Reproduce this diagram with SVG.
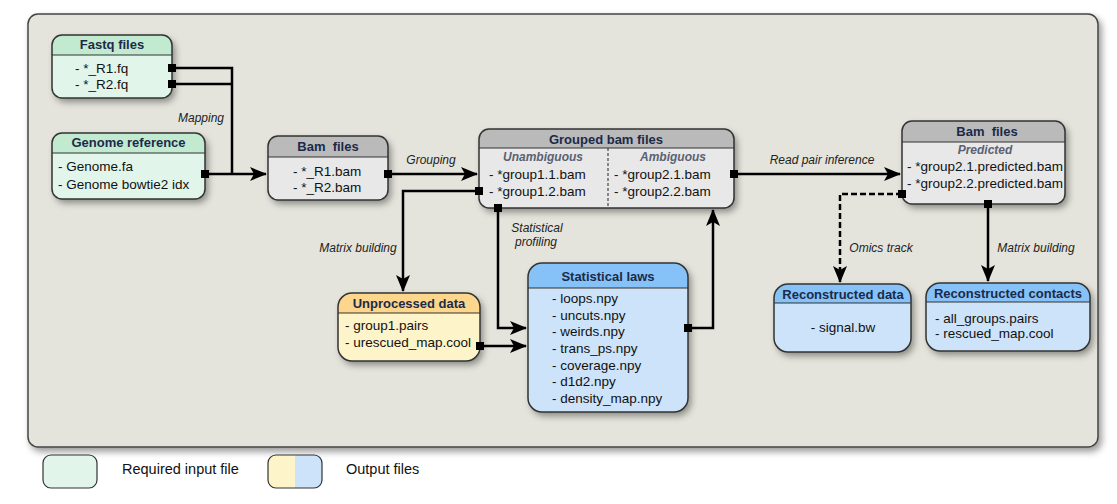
<svg xmlns="http://www.w3.org/2000/svg" width="1117" height="504" viewBox="0 0 1117 504">
<defs>
<filter id="sh" x="-20%" y="-20%" width="150%" height="160%">
<feDropShadow dx="3" dy="4" stdDeviation="3.5" flood-color="#000" flood-opacity="0.4"/>
</filter>
<marker id="arr" markerUnits="userSpaceOnUse" markerWidth="18" markerHeight="14" refX="16" refY="7" orient="auto">
<path d="M0,0 L17,7 L0,14 L4,7 z" fill="#000"/>
</marker>
<clipPath id="cFastq"><rect x="52" y="35" width="120" height="63" rx="10"/></clipPath>
<clipPath id="cGen"><rect x="52" y="133" width="153" height="66" rx="10"/></clipPath>
<clipPath id="cBam"><rect x="268" y="136" width="120" height="64" rx="10"/></clipPath>
<clipPath id="cGrp"><rect x="479" y="129" width="255" height="79" rx="10"/></clipPath>
<clipPath id="cPred"><rect x="902" y="121" width="163" height="83" rx="10"/></clipPath>
<clipPath id="cUnp"><rect x="338" y="293" width="142" height="68" rx="14"/></clipPath>
<clipPath id="cStat"><rect x="528" y="263" width="160" height="149" rx="14"/></clipPath>
<clipPath id="cRd"><rect x="774" y="284" width="137" height="68" rx="14"/></clipPath>
<clipPath id="cRc"><rect x="926" y="283" width="164" height="68" rx="14"/></clipPath>
<clipPath id="cLeg"><rect x="268" y="455" width="54" height="33" rx="8"/></clipPath>
</defs>
<style>
.frame{fill:#e4e4dc;stroke:#444;stroke-width:1.5}
.box{stroke:#333;stroke-width:1.5}
.sep{stroke:#333;stroke-width:1.2}
.title{font-family:"Liberation Sans",Arial,sans-serif;font-size:13px;font-weight:bold;fill:#1b2a49;text-anchor:middle}
.item{font-family:"Liberation Sans",Arial,sans-serif;font-size:13.5px;fill:#111}
.sub{font-family:"Liberation Sans",Arial,sans-serif;font-size:12px;font-weight:bold;font-style:italic;fill:#5a6172;text-anchor:middle}
.lbl{font-family:"Liberation Sans",Arial,sans-serif;font-size:12px;font-style:italic;fill:#222;text-anchor:middle}
.leg{font-family:"Liberation Sans",Arial,sans-serif;font-size:14.5px;fill:#111}
.conn{fill:none;stroke:#000;stroke-width:2.5}
.port{fill:#000}
.gH{fill:#c2ead1}.gB{fill:#e1f5ea}
.yH{fill:#fcd68c}.yB{fill:#fdf4c9}
.bH{fill:#86c2f7}.bB{fill:#cde3f9}
.kH{fill:#bababa}.kB{fill:#e8e8e8}
</style>
<rect class="frame" x="28" y="14" width="1070" height="433" rx="10" filter="url(#sh)"/>

<g id="connectors">
<path class="conn" d="M172,68 H232 V174"/>
<path class="conn" d="M172,84 H232"/>
<path class="conn" d="M205,174 H266" marker-end="url(#arr)"/>
<path class="conn" d="M388,174 H477" marker-end="url(#arr)"/>
<path class="conn" d="M479,191 H403 V291" marker-end="url(#arr)"/>
<path class="conn" d="M498,208 V328 H526" marker-end="url(#arr)"/>
<path class="conn" d="M480,346 H526" marker-end="url(#arr)"/>
<path class="conn" d="M688,328 H713 V210" marker-end="url(#arr)"/>
<path class="conn" d="M734,174 H900" marker-end="url(#arr)"/>
<path class="conn" d="M902,194 H840 V282" stroke-dasharray="6,3" marker-end="url(#arr)"/>
<path class="conn" d="M988,204 V281" marker-end="url(#arr)"/>
<text class="lbl" x="201" y="122">Mapping</text>
<text class="lbl" x="431" y="164">Grouping</text>
<text class="lbl" x="358" y="252">Matrix building</text>
<text class="lbl" x="537" y="232">Statistical</text>
<text class="lbl" x="536" y="246">profiling</text>
<text class="lbl" x="822" y="164">Read pair inference</text>
<text class="lbl" x="881" y="252">Omics track</text>
<text class="lbl" x="1036" y="252">Matrix building</text>
</g>

<g id="fastq">
<g filter="url(#sh)"><rect x="52" y="35" width="120" height="63" rx="10" class="gB"/></g>
<rect x="52" y="35" width="120" height="20" class="gH" clip-path="url(#cFastq)"/>
<line class="sep" x1="52" y1="55" x2="172" y2="55"/>
<rect x="52" y="35" width="120" height="63" rx="10" class="box" fill="none"/>
<text class="title" x="112" y="49">Fastq files</text>
<text class="item" x="75" y="72.5">- *_R1.fq</text>
<text class="item" x="75" y="88.5">- *_R2.fq</text>
<rect class="port" x="168" y="64" width="8" height="8"/>
<rect class="port" x="168" y="80" width="8" height="8"/>
</g>

<g id="genome">
<g filter="url(#sh)"><rect x="52" y="133" width="153" height="66" rx="10" class="gB"/></g>
<rect x="52" y="133" width="153" height="20" class="gH" clip-path="url(#cGen)"/>
<line class="sep" x1="52" y1="153" x2="205" y2="153"/>
<rect x="52" y="133" width="153" height="66" rx="10" class="box" fill="none"/>
<text class="title" x="128.5" y="147">Genome reference</text>
<text class="item" x="58" y="171">- Genome.fa</text>
<text class="item" x="58" y="189">- Genome bowtie2 idx</text>
<rect class="port" x="201" y="170" width="8" height="8"/>
</g>

<g id="bam">
<g filter="url(#sh)"><rect x="268" y="136" width="120" height="64" rx="10" class="kB"/></g>
<rect x="268" y="136" width="120" height="21" class="kH" clip-path="url(#cBam)"/>
<line class="sep" x1="268" y1="157" x2="388" y2="157"/>
<rect x="268" y="136" width="120" height="64" rx="10" class="box" fill="none"/>
<text class="title" x="328" y="151" xml:space="preserve">Bam  files</text>
<text class="item" x="293" y="176">- *_R1.bam</text>
<text class="item" x="293" y="192">- *_R2.bam</text>
<rect class="port" x="384" y="170" width="8" height="8"/>
</g>

<g id="grouped">
<g filter="url(#sh)"><rect x="479" y="129" width="255" height="79" rx="10" class="kB"/></g>
<rect x="479" y="129" width="255" height="19" class="kH" clip-path="url(#cGrp)"/>
<line class="sep" x1="479" y1="148" x2="734" y2="148"/>
<line x1="608" y1="148" x2="608" y2="208" stroke="#222" stroke-width="1" stroke-dasharray="3,2"/>
<rect x="479" y="129" width="255" height="79" rx="10" class="box" fill="none"/>
<text class="title" x="606" y="144">Grouped bam files</text>
<text class="sub" x="543" y="161">Unambiguous</text>
<text class="sub" x="673" y="161">Ambiguous</text>
<text class="item" x="489" y="179">- *group1.1.bam</text>
<text class="item" x="489" y="196">- *group1.2.bam</text>
<text class="item" x="614" y="179">- *group2.1.bam</text>
<text class="item" x="614" y="196">- *group2.2.bam</text>
<rect class="port" x="475" y="187" width="8" height="8"/>
<rect class="port" x="494" y="204" width="8" height="8"/>
<rect class="port" x="730" y="170" width="8" height="8"/>
</g>

<g id="bamPredicted">
<g filter="url(#sh)"><rect x="902" y="121" width="163" height="83" rx="10" class="kB"/></g>
<rect x="902" y="121" width="163" height="21" class="kH" clip-path="url(#cPred)"/>
<line class="sep" x1="902" y1="142" x2="1065" y2="142"/>
<rect x="902" y="121" width="163" height="83" rx="10" class="box" fill="none"/>
<text class="title" x="987" y="136" xml:space="preserve">Bam  files</text>
<text class="sub" x="985" y="154">Predicted</text>
<text class="item" x="907" y="171">- *group2.1.predicted.bam</text>
<text class="item" x="907" y="188">- *group2.2.predicted.bam</text>
<rect class="port" x="898" y="190" width="8" height="8"/>
<rect class="port" x="984" y="200" width="8" height="8"/>
</g>

<g id="unprocessed">
<g filter="url(#sh)"><rect x="338" y="293" width="142" height="68" rx="14" class="yB"/></g>
<rect x="338" y="293" width="142" height="20" class="yH" clip-path="url(#cUnp)"/>
<line class="sep" x1="338" y1="313" x2="480" y2="313"/>
<rect x="338" y="293" width="142" height="68" rx="14" class="box" fill="none"/>
<text class="title" x="409" y="308">Unprocessed data</text>
<text class="item" x="345" y="330">- group1.pairs</text>
<text class="item" x="345" y="347">- urescued_map.cool</text>
<rect class="port" x="476" y="342" width="8" height="8"/>
</g>

<g id="statistical">
<g filter="url(#sh)"><rect x="528" y="263" width="160" height="149" rx="14" class="bB"/></g>
<rect x="528" y="263" width="160" height="25" class="bH" clip-path="url(#cStat)"/>
<line class="sep" x1="528" y1="288" x2="688" y2="288"/>
<rect x="528" y="263" width="160" height="149" rx="14" class="box" fill="none"/>
<text class="title" x="608" y="281">Statistical laws</text>
<text class="item" x="552" y="303">- loops.npy</text>
<text class="item" x="552" y="319.5">- uncuts.npy</text>
<text class="item" x="552" y="336">- weirds.npy</text>
<text class="item" x="552" y="353">- trans_ps.npy</text>
<text class="item" x="552" y="369.5">- coverage.npy</text>
<text class="item" x="552" y="386">- d1d2.npy</text>
<text class="item" x="552" y="403">- density_map.npy</text>
<rect class="port" x="684" y="324" width="8" height="8"/>
</g>

<g id="reconData">
<g filter="url(#sh)"><rect x="774" y="284" width="137" height="68" rx="14" class="bB"/></g>
<rect x="774" y="284" width="137" height="19" class="bH" clip-path="url(#cRd)"/>
<line class="sep" x1="774" y1="303" x2="911" y2="303"/>
<rect x="774" y="284" width="137" height="68" rx="14" class="box" fill="none"/>
<text class="title" x="843" y="299">Reconstructed data</text>
<text class="item" x="843" y="332" text-anchor="middle">- signal.bw</text>
</g>

<g id="reconContacts">
<g filter="url(#sh)"><rect x="926" y="283" width="164" height="68" rx="14" class="bB"/></g>
<rect x="926" y="283" width="164" height="19" class="bH" clip-path="url(#cRc)"/>
<line class="sep" x1="926" y1="302" x2="1090" y2="302"/>
<rect x="926" y="283" width="164" height="68" rx="14" class="box" fill="none"/>
<text class="title" x="1008" y="298">Reconstructed contacts</text>
<text class="item" x="935" y="323">- all_groups.pairs</text>
<text class="item" x="935" y="338">- rescued_map.cool</text>
</g>

<g id="legend">
<rect x="43" y="455" width="54" height="33" rx="8" class="gB" stroke="#333" stroke-width="1.2"/>
<text class="leg" x="122" y="474">Required input file</text>
<rect x="268" y="455" width="27" height="33" class="yB" clip-path="url(#cLeg)"/>
<rect x="295" y="455" width="27" height="33" class="bB" clip-path="url(#cLeg)"/>
<rect x="268" y="455" width="54" height="33" rx="8" fill="none" stroke="#333" stroke-width="1.2"/>
<text class="leg" x="346" y="474">Output files</text>
</g>
</svg>
